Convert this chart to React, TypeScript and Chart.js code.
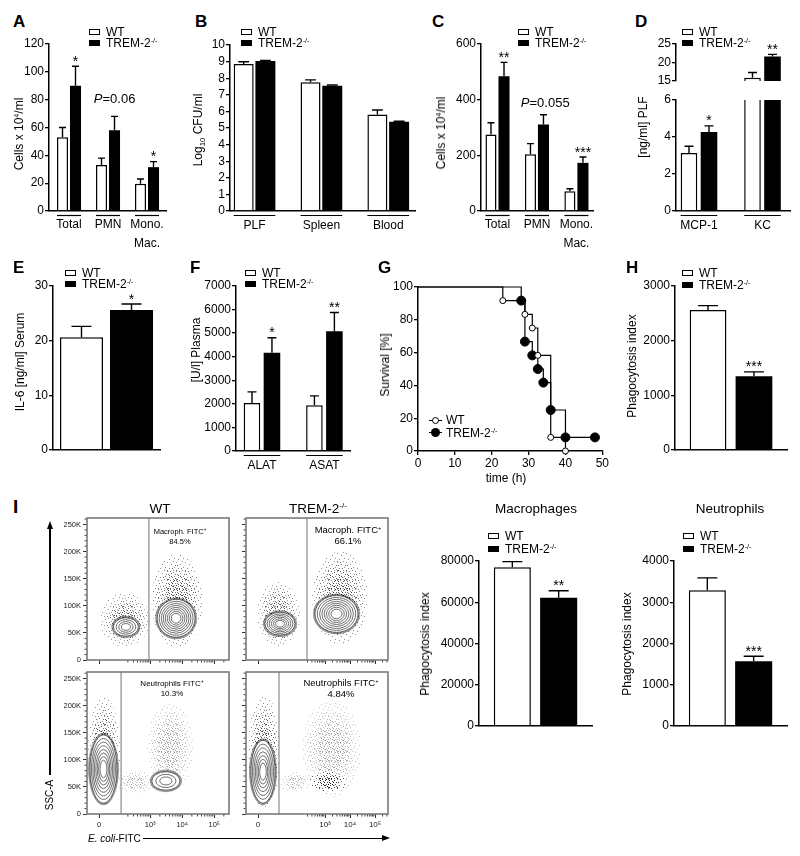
import React, { useEffect, useRef } from "react";
import { Chart, registerables } from "chart.js";
Chart.register(...registerables);

const FONT = "'Liberation Sans', Arial, Helvetica, sans-serif";
Chart.defaults.font.family = FONT;
Chart.defaults.color = "#000";

// ---------------- DATA ----------------
// A: peritoneal lavage cells (x10^4/ml)
const A_CATS = [["Total"], ["PMN"], ["Mono.", "Mac."]];
const A_WT = [53, 33, 19.5];
const A_WT_SEM = [7, 5, 3.5];
const A_KO = [90, 58, 31.5];
const A_KO_SEM = [14, 10, 4];

// B: bacterial load, log10 CFU/ml
const B_CATS = ["PLF", "Spleen", "Blood"];
const B_WT = [8.85, 7.75, 5.81];
const B_WT_SEM = [0.14, 0.15, 0.27];
const B_KO = [9.03, 7.55, 5.37];
const B_KO_SEM = [0.04, 0.04, 0.04];

// C: lung cells (x10^4/ml)
const C_CATS = [["Total"], ["PMN"], ["Mono.", "Mac."]];
const C_WT = [275, 204, 71];
const C_WT_SEM = [42, 38, 9];
const C_KO = [484, 311, 173];
const C_KO_SEM = [50, 35, 21];

// D: chemokines in PLF (ng/ml), broken axis
const D_CATS = ["MCP-1", "KC"];
const D_WT = [3.13, 15.85];
const D_WT_SEM = [0.37, 1.45];
const D_KO = [4.27, 21.6];
const D_KO_SEM = [0.33, 0.6];

// E: IL-6 serum (ng/ml)
const E_WT = [20.6];
const E_WT_SEM = [2.0];
const E_KO = [25.6];
const E_KO_SEM = [1.1];

// F: plasma enzymes (U/l)
const F_CATS = ["ALAT", "ASAT"];
const F_WT = [2040, 1940];
const F_WT_SEM = [470, 400];
const F_KO = [4165, 5085];
const F_KO_SEM = [640, 790];

// G: survival (Kaplan-Meier), time in h, survival in %
const G_WT_T = [0, 23, 29, 31, 32.5, 36, 40];
const G_WT_S = [100, 91.7, 83.3, 75, 58.3, 8.3, 0];
const G_KO_T = [0, 28, 29, 31, 32.5, 34, 36, 40, 48];
const G_KO_S = [100, 91.7, 66.7, 58.3, 50, 41.7, 25, 8.3, 8.3];
const G_XTICKS = [0, 10, 20, 30, 40, 50];

// H: phagocytosis index
const H_WT = [2562];
const H_WT_SEM = [79];
const H_KO = [1348];
const H_KO_SEM = [79];

// I: phagocytosis index, macrophages / neutrophils
const IM_WT = [76950];
const IM_WT_SEM = [2730];
const IM_KO = [62170];
const IM_KO_SEM = [3370];
const IN_WT = [3293];
const IN_WT_SEM = [297];
const IN_KO = [1566];
const IN_KO_SEM = [121];

// I: flow cytometry (x: display decades of E. coli-FITC, y: SSC-A in K)
// populations: [x, y, rx, ry, density] clouds ; [x, y, rx, ry, rings] contours
const FLOW_Y_TICKS = [0, 50, 100, 150, 200, 250];
const FLOW_Y_LABELS = ["0", "50K", "100K", "150K", "200K", "250K"];
const FLOW_X_LABELS = ["0", "10³", "10⁴", "10⁵"];
const FLOW_WT_XTICKS = [1.4, 3, 4, 5];
const FLOW_KO_XTICKS = [0.32, 3, 4, 5];
const WT_MAC_CLOUDS = [[2.21, 74, 0.78, 50, 0.7], [3.84, 110, 0.8, 86, 0.8]];
const WT_MAC_CONTOURS = [[2.24, 61, 0.39, 17, 4], [3.81, 77, 0.59, 35, 8]];
const KO_MAC_CLOUDS = [[1.14, 85, 0.86, 60, 0.7], [3.6, 115, 1.12, 85, 0.8]];
const KO_MAC_CONTOURS = [[1.2, 67, 0.6, 21, 6], [3.46, 85, 0.86, 34, 8]];
const WT_NEU_CLOUDS = [[1.56, 115, 0.5, 100, 0.8], [2.525, 59, 0.56, 22, 0.35], [3.62, 122, 0.72, 83, 0.4]];
const WT_NEU_CONTOURS = [[1.54, 83, 0.42, 63, 8], [3.49, 61, 0.44, 17, 3]];
const KO_NEU_CLOUDS = [[0.56, 115, 0.64, 105, 0.8], [1.8, 59, 0.6, 20, 0.35], [3.28, 120, 1.18, 90, 0.4], [3.12, 59, 0.74, 21, 1.0]];
const KO_NEU_CONTOURS = [[0.52, 78, 0.48, 58, 7]];
const FLOW_GATES = { wtMac: 2.96, koMac: 2.28, wtNeu: 2.09, koNeu: 1.16 };

// stipple texture tiles (9x9) for dot clouds
const TILE_DOTS = [
  [[0, 0], [4, 2], [7, 5], [2, 6], [6, 8]],
  [[3, 0], [8, 3], [1, 3], [5, 6], [0, 8]],
  [[6, 1], [2, 4], [8, 7], [4, 5], [1, 8]],
  [[1, 1], [5, 3], [7, 0], [3, 8], [0, 5], [6, 6]],
];

// ---------------- BAR CHART FACTORY ----------------
type Series = { values: number[]; sem: number[]; fill: string; border: number };
type Star = { ds: number; i: number; text: string };
type PNote = { x: number; y: number; text: string };
type BarCfg = {
  box: number[]; area: number[];
  cats: (string | string[])[];
  xr: number[]; yr: number[]; step: number;
  series: Series[];
  cat: number; bar: number;
  stars: Star[]; pnotes: PNote[];
  underline: boolean; showX: boolean; lh?: number; pad?: number;
};

const wtS = (v: number[], e: number[]): Series => ({ values: v, sem: e, fill: "#ffffff", border: 1.5 });
const koS = (v: number[], e: number[]): Series => ({ values: v, sem: e, fill: "#000000", border: 0 });

function makeBar(cv: HTMLCanvasElement, c: BarCfg) {
  const [L, T, W, H] = c.box;
  const [x0, y0, x1, y1] = c.area;
  const decor = {
    id: "decor",
    afterDatasetsDraw(ch: any) {
      const ctx = ch.ctx, a = ch.chartArea, ys = ch.scales.y, xs = ch.scales.x;
      ctx.save();
      ctx.beginPath();
      ctx.rect(a.left, a.top - 4, a.right - a.left, a.bottom - a.top + 4);
      ctx.clip();
      ctx.strokeStyle = "#000";
      ctx.lineWidth = 1.4;
      c.series.forEach((s, k) => {
        const meta = ch.getDatasetMeta(k);
        meta.data.forEach((b: any, i: number) => {
          const top = ys.getPixelForValue(s.values[i] + s.sem[i]);
          const base = ys.getPixelForValue(s.values[i]);
          const half = Math.max(3.5, Math.min(10, b.width * 0.27));
          ctx.beginPath();
          ctx.moveTo(b.x, base);
          ctx.lineTo(b.x, top);
          ctx.moveTo(b.x - half, top);
          ctx.lineTo(b.x + half, top);
          ctx.stroke();
        });
      });
      ctx.restore();
      ctx.save();
      ctx.fillStyle = "#000";
      ctx.textAlign = "center";
      ctx.textBaseline = "alphabetic";
      c.stars.forEach((n) => {
        const b = ch.getDatasetMeta(n.ds).data[n.i];
        const s = c.series[n.ds];
        const top = ys.getPixelForValue(s.values[n.i] + s.sem[n.i]);
        ctx.font = `14px ${FONT}`;
        ctx.fillText(n.text, b.x, top - 0.5);
      });
      c.pnotes.forEach((p) => {
        const px = xs.getPixelForValue(p.x), py = ys.getPixelForValue(p.y);
        ctx.font = `italic 13px ${FONT}`;
        const w1 = ctx.measureText("P").width;
        ctx.font = `13px ${FONT}`;
        const w2 = ctx.measureText(p.text).width;
        const start = px - (w1 + w2) / 2;
        ctx.textAlign = "left";
        ctx.textBaseline = "middle";
        ctx.font = `italic 13px ${FONT}`;
        ctx.fillText("P", start, py);
        ctx.font = `13px ${FONT}`;
        ctx.fillText(p.text, start + w1, py);
      });
      if (c.underline) {
        ctx.strokeStyle = "#000";
        ctx.lineWidth = 1.2;
        c.cats.forEach((_, i) => {
          let lo = Infinity, hi = -Infinity;
          c.series.forEach((__, k) => {
            const b: any = ch.getDatasetMeta(k).data[i];
            lo = Math.min(lo, b.x - b.width / 2);
            hi = Math.max(hi, b.x + b.width / 2);
          });
          ctx.beginPath();
          ctx.moveTo(lo, a.bottom + 4.5);
          ctx.lineTo(hi, a.bottom + 4.5);
          ctx.stroke();
        });
      }
      ctx.restore();
    },
  };
  return new Chart(cv, {
    type: "bar",
    data: {
      datasets: c.series.map((s, k) => ({
        label: k === 0 ? "WT" : "TREM-2-/-",
        data: s.values.map((v, i) => ({ x: i, y: v })),
        backgroundColor: s.fill,
        borderColor: "#000",
        borderWidth: s.border,
        borderSkipped: "bottom",
        clip: 0,
        categoryPercentage: c.cat,
        barPercentage: c.bar,
      })) as any,
    },
    options: {
      responsive: false,
      animation: false,
      devicePixelRatio: 1,
      events: [],
      layout: { padding: { left: 0, top: y0 - T, right: L + W - x1, bottom: c.showX ? 0 : T + H - y1 } },
      plugins: { legend: { display: false }, tooltip: { enabled: false } },
      scales: {
        x: {
          type: "linear",
          min: c.xr[0],
          max: c.xr[1],
          offset: false,
          display: c.showX,
          afterBuildTicks: (s: any) => { s.ticks = c.cats.map((_, i) => ({ value: i })); },
          afterFit: (s: any) => { s.height = T + H - y1; },
          grid: { display: false, offset: false },
          border: { display: true, color: "#000", width: 1.5 },
          ticks: {
            autoSkip: false, maxRotation: 0, minRotation: 0, padding: c.pad ?? -1, color: "#000",
            font: { family: FONT, size: 12, lineHeight: c.lh ?? 1.2 },
            callback: (v: any) => (c.cats[v] as any) ?? "",
          },
        },
        y: {
          type: "linear",
          min: c.yr[0],
          max: c.yr[1],
          afterFit: (s: any) => { s.width = x0 - L; },
          grid: { display: true, drawOnChartArea: false, drawTicks: true, tickLength: 4, color: "#000", lineWidth: 1.3 },
          border: { display: true, color: "#000", width: 1.5 },
          ticks: { stepSize: c.step, autoSkip: false, padding: 1, color: "#000", font: { family: FONT, size: 12 }, callback: (v: any) => String(v) },
        },
      },
    } as any,
    plugins: [decor],
  });
}

// ---------------- KM CHART ----------------
function makeKM(cv: HTMLCanvasElement, box: number[], area: number[]) {
  const [L, T, W, H] = box;
  const [x0, y0, x1, y1] = area;
  return new Chart(cv, {
    type: "line",
    data: {
      datasets: [
        {
          data: G_WT_T.map((t, i) => ({ x: t, y: G_WT_S[i] })),
          stepped: "before", borderColor: "#000", borderWidth: 1.2, fill: false, clip: false,
          pointRadius: G_WT_T.map((_, i) => (i === 0 ? 0 : 3)),
          pointBackgroundColor: "#fff", pointBorderColor: "#000", pointBorderWidth: 1,
        },
        {
          data: G_KO_T.map((t, i) => ({ x: t, y: G_KO_S[i] })),
          stepped: "before", borderColor: "#000", borderWidth: 1.2, fill: false, clip: false,
          pointRadius: G_KO_T.map((_, i) => (i === 0 ? 0 : 4.5)),
          pointBackgroundColor: "#000", pointBorderColor: "#000", pointBorderWidth: 1,
        },
      ] as any,
    },
    options: {
      responsive: false, animation: false, devicePixelRatio: 1, events: [],
      layout: { padding: { left: 0, top: y0 - T, right: L + W - x1, bottom: 0 } },
      plugins: { legend: { display: false }, tooltip: { enabled: false } },
      scales: {
        x: {
          type: "linear", min: 0, max: 50,
          afterBuildTicks: (s: any) => { s.ticks = G_XTICKS.map((v) => ({ value: v })); },
          afterFit: (s: any) => { s.height = T + H - y1; },
          grid: { display: true, drawOnChartArea: false, tickLength: 4, color: "#000", lineWidth: 1.3 },
          border: { display: true, color: "#000", width: 1.5 },
          ticks: { padding: 1, color: "#000", font: { family: FONT, size: 12 }, maxRotation: 0, autoSkip: false },
        },
        y: {
          type: "linear", min: 0, max: 100,
          afterFit: (s: any) => { s.width = x0 - L; },
          grid: { display: true, drawOnChartArea: false, tickLength: 4, color: "#000", lineWidth: 1.3 },
          border: { display: true, color: "#000", width: 1.5 },
          ticks: { stepSize: 20, padding: 1, color: "#000", font: { family: FONT, size: 12 } },
        },
      },
    } as any,
  });
}

// ---------------- FLOW PLOT ----------------
type FlowCfg = {
  box: number[]; area: number[]; xr: number[]; xticks: number[];
  yLbl: boolean; xLbl: boolean; gate: number; clouds: number[][]; contours: number[][]; tickSize: number;
};

function patternFor(ctx: CanvasRenderingContext2D, l: number) {
  const t = document.createElement("canvas");
  t.width = 9; t.height = 9;
  const g = t.getContext("2d")!;
  g.fillStyle = "#111";
  TILE_DOTS[l].forEach(([x, y]) => g.fillRect(x, y, 1, 1));
  return ctx.createPattern(t, "repeat")!;
}

function makeFlow(cv: HTMLCanvasElement, f: FlowCfg) {
  const [L, T, W, H] = f.box;
  const [x0, y0, x1, y1] = f.area;
  const lo = f.xr[0], hi = f.xr[1];
  const minorX: number[] = [];
  [2, 3, 4, 5].forEach((d) => {
    for (let k = 2; k <= 9; k++) {
      const v = d + Math.log10(k);
      if (v > lo && v < hi && v > f.xticks[0] + 0.3) minorX.push(v);
    }
  });
  const minorY: number[] = [];
  for (let v = 10; v < 262; v += 10) if (v % 50 !== 0) minorY.push(v);
  const plug = {
    id: "flow",
    beforeDatasetsDraw(ch: any) {
      const ctx: CanvasRenderingContext2D = ch.ctx, a = ch.chartArea, xs = ch.scales.x, ys = ch.scales.y;
      const pats = [0, 1, 2, 3].map((l) => patternFor(ctx, l));
      ctx.save();
      ctx.beginPath();
      ctx.rect(a.left, a.top, a.right - a.left, a.bottom - a.top);
      ctx.clip();
      f.clouds.forEach(([x, y, rx, ry, d]) => {
        const cx = xs.getPixelForValue(x), cy = ys.getPixelForValue(y);
        const prx = Math.abs(xs.getPixelForValue(x + rx) - cx), pry = Math.abs(ys.getPixelForValue(y + ry) - cy);
        [1, 0.8, 0.62, 0.45].forEach((s, l) => {
          ctx.globalAlpha = Math.min(1, d * (0.6 + 0.15 * l));
          ctx.fillStyle = pats[l];
          ctx.beginPath();
          ctx.ellipse(cx, cy, prx * s, pry * s, 0, 0, Math.PI * 2);
          ctx.fill();
        });
        ctx.globalAlpha = 1;
      });
      f.contours.forEach(([x, y, rx, ry, n]) => {
        const cx = xs.getPixelForValue(x), cy = ys.getPixelForValue(y);
        const prx = Math.abs(xs.getPixelForValue(x + rx) - cx), pry = Math.abs(ys.getPixelForValue(y + ry) - cy);
        ctx.fillStyle = "rgba(0,0,0,0.4)";
        ctx.beginPath();
        ctx.ellipse(cx, cy, prx + 2, pry + 2, 0, 0, Math.PI * 2);
        ctx.fill();
        ctx.fillStyle = "#fff";
        ctx.beginPath();
        ctx.ellipse(cx, cy, prx, pry, 0, 0, Math.PI * 2);
        ctx.fill();
        ctx.strokeStyle = "#333";
        ctx.lineWidth = 0.7;
        for (let j = 0; j < n; j++) {
          const s = 1 - (j * 0.85) / n;
          ctx.beginPath();
          ctx.ellipse(cx, cy, prx * s, pry * s, 0, 0, Math.PI * 2);
          ctx.stroke();
        }
      });
      ctx.restore();
    },
    afterDatasetsDraw(ch: any) {
      const ctx: CanvasRenderingContext2D = ch.ctx, a = ch.chartArea, xs = ch.scales.x, ys = ch.scales.y;
      ctx.save();
      ctx.strokeStyle = "#444";
      ctx.lineWidth = 1;
      ctx.beginPath();
      minorX.forEach((v) => { const p = xs.getPixelForValue(v); ctx.moveTo(p, a.bottom); ctx.lineTo(p, a.bottom + 2.5); });
      minorY.forEach((v) => { const p = ys.getPixelForValue(v); ctx.moveTo(a.left, p); ctx.lineTo(a.left - 2.5, p); });
      ctx.stroke();
      ctx.strokeStyle = "#7a7a7a";
      ctx.lineWidth = 1.6;
      ctx.strokeRect(a.left, a.top, a.right - a.left, a.bottom - a.top);
      ctx.restore();
    },
  };
  return new Chart(cv, {
    type: "line",
    data: {
      datasets: [{ data: [{ x: f.gate, y: 0 }, { x: f.gate, y: 262 }], borderColor: "#8a8a8a", borderWidth: 1.2, pointRadius: 0 }] as any,
    },
    options: {
      responsive: false, animation: false, devicePixelRatio: 1, events: [],
      layout: { padding: { left: 0, top: y0 - T, right: L + W - x1, bottom: 0 } },
      plugins: { legend: { display: false }, tooltip: { enabled: false } },
      scales: {
        x: {
          type: "linear", min: lo, max: hi,
          afterBuildTicks: (s: any) => { s.ticks = f.xticks.map((v) => ({ value: v })); },
          afterFit: (s: any) => { s.height = T + H - y1; },
          grid: { display: true, drawOnChartArea: false, tickLength: 4, color: "#333", lineWidth: 1 },
          border: { display: false },
          ticks: {
            display: f.xLbl, padding: 2, color: "#222", font: { family: FONT, size: f.tickSize }, maxRotation: 0, autoSkip: false,
            callback: (v: any) => FLOW_X_LABELS[f.xticks.indexOf(v)] ?? "",
          },
        },
        y: {
          type: "linear", min: 0, max: 262,
          afterBuildTicks: (s: any) => { s.ticks = FLOW_Y_TICKS.map((v) => ({ value: v })); },
          afterFit: (s: any) => { s.width = x0 - L; },
          grid: { display: true, drawOnChartArea: false, tickLength: 4, color: "#333", lineWidth: 1 },
          border: { display: false },
          ticks: {
            display: f.yLbl, padding: 2, color: "#222", font: { family: FONT, size: 7.5 }, autoSkip: false,
            callback: (v: any) => FLOW_Y_LABELS[FLOW_Y_TICKS.indexOf(v)] ?? "",
          },
        },
      },
    } as any,
    plugins: [plug],
  });
}

// ---------------- CONFIGS ----------------
const BARS: BarCfg[] = [
  { box: [10, 32, 165, 226], area: [49, 44, 166, 211], cats: A_CATS, xr: [-0.513, 2.487], yr: [0, 120], step: 20,
    series: [wtS(A_WT, A_WT_SEM), koS(A_KO, A_KO_SEM)], cat: 0.667, bar: 0.85,
    stars: [{ ds: 1, i: 0, text: "*" }, { ds: 1, i: 2, text: "*" }], pnotes: [{ x: 1.17, y: 80, text: "=0.06" }], underline: true, showX: true, lh: 1.6, pad: -4 },
  { box: [195, 33, 228, 225], area: [230, 45, 415, 211], cats: B_CATS, xr: [-0.367, 2.4], yr: [0, 10], step: 1,
    series: [wtS(B_WT, B_WT_SEM), koS(B_KO, B_KO_SEM)], cat: 0.65, bar: 0.92, stars: [], pnotes: [], underline: true, showX: true },
  { box: [440, 32, 160, 226], area: [481, 44, 593, 211], cats: C_CATS, xr: [-0.418, 2.42], yr: [0, 600], step: 200,
    series: [wtS(C_WT, C_WT_SEM), koS(C_KO, C_KO_SEM)], cat: 0.66, bar: 0.85,
    stars: [{ ds: 1, i: 0, text: "**" }, { ds: 1, i: 2, text: "***" }], pnotes: [{ x: 1.21, y: 388, text: "=0.055" }], underline: true, showX: true, lh: 1.6, pad: -4 },
  { box: [645, 32, 152, 69], area: [676, 44, 790, 91], cats: D_CATS, xr: [-0.362, 1.433], yr: [15, 25], step: 5,
    series: [wtS(D_WT, D_WT_SEM), koS(D_KO, D_KO_SEM)], cat: 0.63, bar: 0.83,
    stars: [{ ds: 1, i: 1, text: "**" }], pnotes: [], underline: false, showX: false },
  { box: [645, 88, 152, 170], area: [676, 100, 790, 211], cats: D_CATS, xr: [-0.362, 1.433], yr: [0, 6], step: 2,
    series: [wtS(D_WT, D_WT_SEM), koS(D_KO, D_KO_SEM)], cat: 0.63, bar: 0.83,
    stars: [{ ds: 1, i: 0, text: "*" }], pnotes: [], underline: true, showX: true },
  { box: [10, 274, 158, 184], area: [53, 286, 160, 451], cats: [""], xr: [-0.5, 0.5], yr: [0, 30], step: 10,
    series: [wtS(E_WT, E_WT_SEM), koS(E_KO, E_KO_SEM)], cat: 0.935, bar: 0.86,
    stars: [{ ds: 1, i: 0, text: "*" }], pnotes: [], underline: false, showX: true },
  { box: [195, 274, 163, 210], area: [236, 286, 350, 451], cats: F_CATS, xr: [-0.416, 1.41], yr: [0, 7000], step: 1000,
    series: [wtS(F_WT, F_WT_SEM), koS(F_KO, F_KO_SEM)], cat: 0.64, bar: 0.83,
    stars: [{ ds: 1, i: 0, text: "*" }, { ds: 1, i: 1, text: "**" }], pnotes: [], underline: true, showX: true },
  { box: [630, 274, 165, 184], area: [675, 286, 787, 451], cats: [""], xr: [-0.5, 0.5], yr: [0, 3000], step: 1000,
    series: [wtS(H_WT, H_WT_SEM), koS(H_KO, H_KO_SEM)], cat: 0.82, bar: 0.8,
    stars: [{ ds: 1, i: 0, text: "***" }], pnotes: [], underline: false, showX: true },
  { box: [430, 549, 170, 185], area: [479, 561, 592, 727], cats: [""], xr: [-0.5, 0.5], yr: [0, 80000], step: 20000,
    series: [wtS(IM_WT, IM_WT_SEM), koS(IM_KO, IM_KO_SEM)], cat: 0.82, bar: 0.8,
    stars: [{ ds: 1, i: 0, text: "**" }], pnotes: [], underline: false, showX: true },
  { box: [630, 549, 165, 185], area: [674, 561, 787, 727], cats: [""], xr: [-0.5, 0.5], yr: [0, 4000], step: 1000,
    series: [wtS(IN_WT, IN_WT_SEM), koS(IN_KO, IN_KO_SEM)], cat: 0.82, bar: 0.8,
    stars: [{ ds: 1, i: 0, text: "***" }], pnotes: [], underline: false, showX: true },
];

const FLOWS: FlowCfg[] = [
  { box: [50, 508, 185, 160], area: [87, 518, 229, 660], xr: [1.025, 5.4625], xticks: FLOW_WT_XTICKS, yLbl: true, xLbl: false,
    gate: FLOW_GATES.wtMac, clouds: WT_MAC_CLOUDS, contours: WT_MAC_CONTOURS, tickSize: 7.5 },
  { box: [238, 508, 155, 160], area: [246, 518, 388, 660], xr: [-0.16, 5.52], xticks: FLOW_KO_XTICKS, yLbl: false, xLbl: false,
    gate: FLOW_GATES.koMac, clouds: KO_MAC_CLOUDS, contours: KO_MAC_CONTOURS, tickSize: 8 },
  { box: [50, 662, 185, 168], area: [87, 672, 229, 814], xr: [1.025, 5.4625], xticks: FLOW_WT_XTICKS, yLbl: true, xLbl: true,
    gate: FLOW_GATES.wtNeu, clouds: WT_NEU_CLOUDS, contours: WT_NEU_CONTOURS, tickSize: 7.5 },
  { box: [238, 662, 155, 168], area: [246, 672, 388, 814], xr: [-0.16, 5.52], xticks: FLOW_KO_XTICKS, yLbl: false, xLbl: true,
    gate: FLOW_GATES.koNeu, clouds: KO_NEU_CLOUDS, contours: KO_NEU_CONTOURS, tickSize: 8 },
];

const G_BOX = [385, 275, 225, 200];
const G_AREA = [418, 287, 603, 451];

// ---------------- HTML HELPERS ----------------
function ChartBox({ box, build }: { box: number[]; build: (c: HTMLCanvasElement) => Chart }) {
  const ref = useRef<HTMLCanvasElement>(null);
  useEffect(() => {
    const ch = build(ref.current!);
    return () => ch.destroy();
  }, []);
  return (
    <canvas ref={ref} width={box[2]} height={box[3]}
      style={{ position: "absolute", left: box[0], top: box[1], width: box[2], height: box[3] }} />
  );
}

function Tx({ x, y, s = 12, a = "left", b = false, it = false, children }: any) {
  const tr = a === "center" ? "translateX(-50%)" : a === "right" ? "translateX(-100%)" : "none";
  return (
    <div style={{ position: "absolute", left: x, top: y - 0.8465 * s, fontSize: s, lineHeight: `${s}px`, fontFamily: FONT,
      fontWeight: b ? "bold" : "normal", fontStyle: it ? "italic" : "normal", whiteSpace: "nowrap", transform: tr, color: "#000" }}>
      {children}
    </div>
  );
}

function VTx({ x, y, s = 12, children }: any) {
  return (
    <div style={{ position: "absolute", left: x, top: y, fontSize: s, lineHeight: `${s}px`, fontFamily: FONT, whiteSpace: "nowrap",
      transform: "translate(-50%,-50%) rotate(-90deg)", color: "#000" }}>
      {children}
    </div>
  );
}

const Sup = ({ children }: any) => (
  <span style={{ fontSize: "0.6em", position: "relative", top: "-0.6em" }}>{children}</span>
);
const Sub = ({ children }: any) => (
  <span style={{ fontSize: "0.65em", position: "relative", top: "0.35em" }}>{children}</span>
);

function Lg({ x, y, dy = 11 }: any) {
  const box = (top: number, bg: string) => (
    <div style={{ position: "absolute", left: x, top, width: 11, height: 6, border: "1.3px solid #000", background: bg, boxSizing: "border-box" }} />
  );
  return (
    <>
      {box(y - 7, "#fff")}
      <Tx x={x + 17} y={y}>WT</Tx>
      {box(y + dy - 7, "#000")}
      <Tx x={x + 17} y={y + dy}>TREM-2<Sup>-/-</Sup></Tx>
    </>
  );
}

const TREM = () => (<>TREM-2<Sup>-/-</Sup></>);

export default function App() {
  return (
    <div style={{ position: "absolute", left: 0, top: 0, width: 800, height: 856, background: "#fff", overflow: "hidden" }}>
      {BARS.map((c, i) => (
        <ChartBox key={"b" + i} box={c.box} build={(cv) => makeBar(cv, c)} />
      ))}
      <ChartBox box={G_BOX} build={(cv) => makeKM(cv, G_BOX, G_AREA)} />
      {FLOWS.map((f, i) => (
        <ChartBox key={"f" + i} box={f.box} build={(cv) => makeFlow(cv, f)} />
      ))}

      {/* panel letters */}
      <Tx x={13} y={27} s={17} b>A</Tx>
      <Tx x={195} y={27} s={17} b>B</Tx>
      <Tx x={432} y={27} s={17} b>C</Tx>
      <Tx x={635} y={27} s={17} b>D</Tx>
      <Tx x={13} y={273} s={17} b>E</Tx>
      <Tx x={190} y={273} s={17} b>F</Tx>
      <Tx x={378} y={273} s={17} b>G</Tx>
      <Tx x={626} y={273} s={17} b>H</Tx>
      <Tx x={13} y={513} s={19} b>I</Tx>

      {/* legends */}
      <Lg x={89} y={36} />
      <Lg x={241} y={36} />
      <Lg x={518} y={36} />
      <Lg x={682} y={36} />
      <Lg x={65} y={277} />
      <Lg x={245} y={277} />
      <Lg x={682} y={277} dy={12} />
      <Lg x={488} y={540} dy={13} />
      <Lg x={683} y={540} dy={13} />

      {/* y-axis titles */}
      <VTx x={20} y={134}>Cells x 10<Sup>4</Sup>/ml</VTx>
      <VTx x={199} y={130}>Log<Sub>10</Sub> CFU/ml</VTx>
      <VTx x={442} y={133}>Cells x 10<Sup>4</Sup>/ml</VTx>
      <VTx x={643} y={127}>[ng/ml] PLF</VTx>
      <VTx x={20} y={362}>IL-6 [ng/ml] Serum</VTx>
      <VTx x={196} y={350}>[U/l] Plasma</VTx>
      <VTx x={385} y={365}>Survival [%]</VTx>
      <VTx x={632} y={366}>Phagocytosis index</VTx>
      <VTx x={425} y={644}>Phagocytosis index</VTx>
      <VTx x={627} y={644}>Phagocytosis index</VTx>

      {/* G extras */}
      <Tx x={506} y={482} a="center">time (h)</Tx>
      <div style={{ position: "absolute", left: 429, top: 420, width: 13, height: 1.2, background: "#000" }} />
      <div style={{ position: "absolute", left: 432, top: 417, width: 7, height: 7, borderRadius: "50%", border: "1px solid #000", background: "#fff", boxSizing: "border-box" }} />
      <Tx x={446} y={424}>WT</Tx>
      <div style={{ position: "absolute", left: 429, top: 432, width: 13, height: 1.2, background: "#000" }} />
      <div style={{ position: "absolute", left: 431, top: 428, width: 9, height: 9, borderRadius: "50%", background: "#000" }} />
      <Tx x={446} y={437}><TREM /></Tx>

      {/* I titles */}
      <Tx x={160} y={513} s={13.5} a="center">WT</Tx>
      <Tx x={318} y={513} s={13.5} a="center"><TREM /></Tx>
      <Tx x={536} y={513} s={13.5} a="center">Macrophages</Tx>
      <Tx x={730} y={513} s={13.5} a="center">Neutrophils</Tx>

      {/* gate labels */}
      <Tx x={180} y={534} s={7.5} a="center">Macroph. FITC<Sup>+</Sup></Tx>
      <Tx x={180} y={544} s={7.5} a="center">84.5%</Tx>
      <Tx x={348} y={533} s={9.5} a="center">Macroph. FITC<Sup>+</Sup></Tx>
      <Tx x={348} y={544} s={9.5} a="center">66.1%</Tx>
      <Tx x={172} y={687} s={8} a="center">Neutrophils FITC<Sup>+</Sup></Tx>
      <Tx x={172} y={697} s={8} a="center">10.3%</Tx>
      <Tx x={341} y={686} s={9.5} a="center">Neutrophils FITC<Sup>+</Sup></Tx>
      <Tx x={341} y={697} s={9.5} a="center">4.84%</Tx>

      {/* flow axis arrows */}
      <div style={{ position: "absolute", left: 49.4, top: 528, width: 1.3, height: 247, background: "#000" }} />
      <div style={{ position: "absolute", left: 46.5, top: 521, width: 0, height: 0, borderLeft: "3.5px solid transparent", borderRight: "3.5px solid transparent", borderBottom: "8px solid #000" }} />
      <VTx x={50} y={795} s={10}>SSC-A</VTx>
      <Tx x={88} y={842} s={10}><i>E. coli</i>-FITC</Tx>
      <div style={{ position: "absolute", left: 143, top: 837.5, width: 240, height: 1.3, background: "#000" }} />
      <div style={{ position: "absolute", left: 382, top: 834.6, width: 0, height: 0, borderTop: "3.5px solid transparent", borderBottom: "3.5px solid transparent", borderLeft: "8px solid #000" }} />
    </div>
  );
}
